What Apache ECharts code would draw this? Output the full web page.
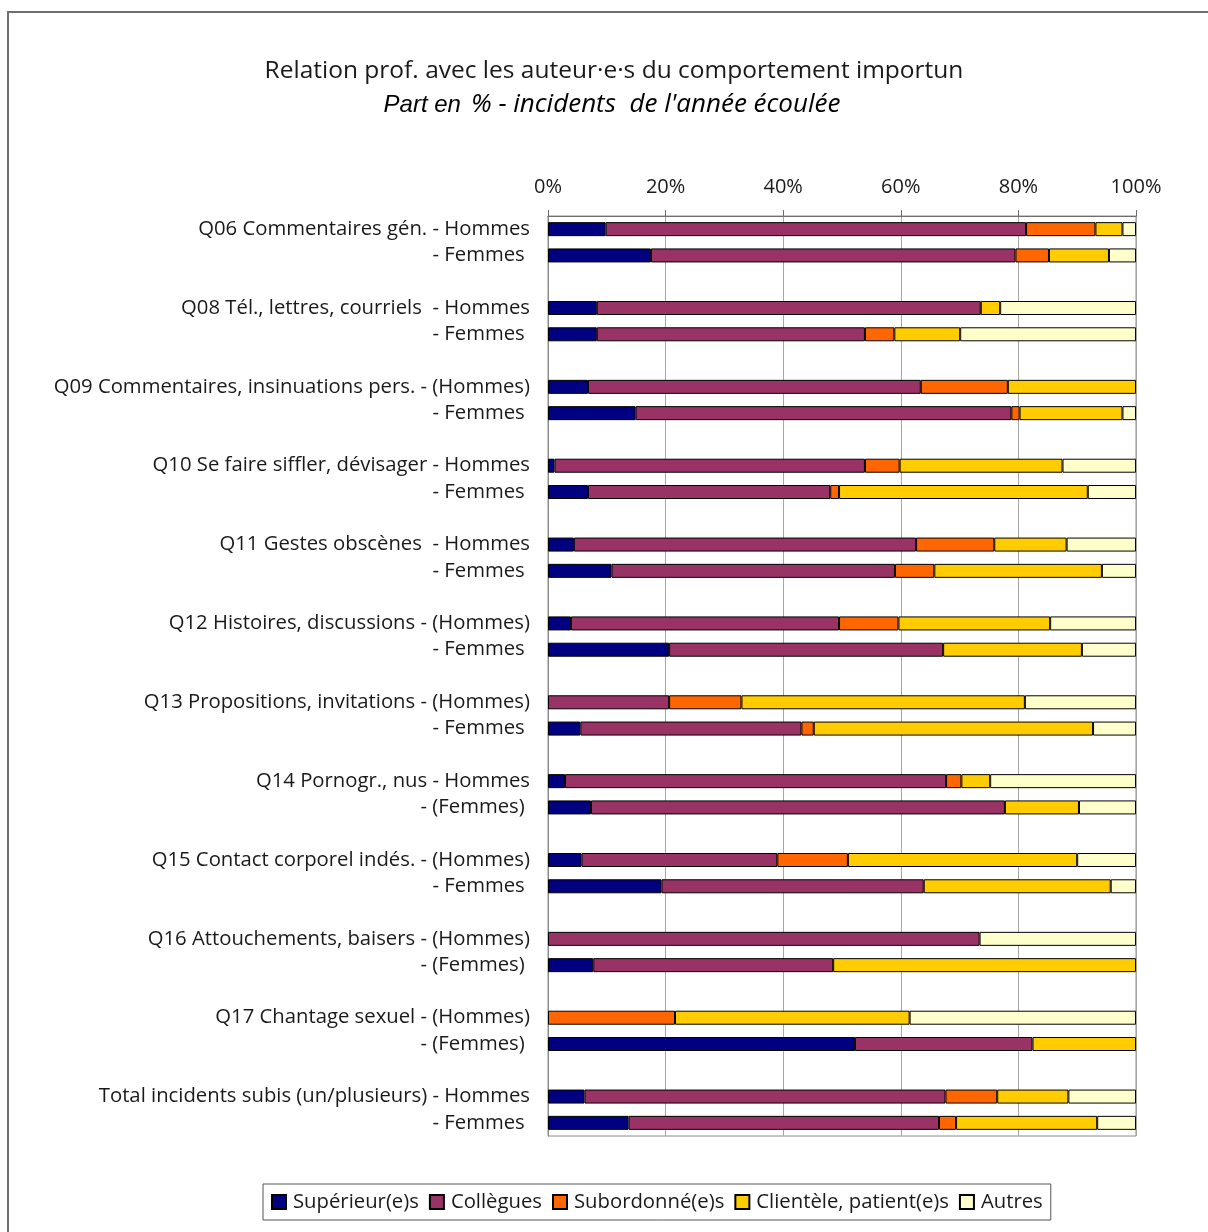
<!DOCTYPE html>
<html>
<head>
<meta charset="utf-8">
<script src="https://cdn.jsdelivr.net/npm/echarts@6/dist/echarts.min.js"></script>
<style>
  html, body { margin: 0; padding: 0; background: #fff; }
  #chart { width: 1208px; height: 1232px; }
</style>
</head>
<body>
<div id="chart"></div>
<script>
// rows: Hommes / Femmes per question, top to bottom
var rowLabels = [
  'Q06 Commentaires gén. - Hommes', '- Femmes ',
  'Q08 Tél., lettres, courriels  - Hommes', '- Femmes ',
  'Q09 Commentaires, insinuations pers. - (Hommes)', '- Femmes ',
  'Q10 Se faire siffler, dévisager - Hommes', '- Femmes ',
  'Q11 Gestes obscènes  - Hommes', '- Femmes ',
  'Q12 Histoires, discussions - (Hommes)', '- Femmes ',
  'Q13 Propositions, invitations - (Hommes)', '- Femmes ',
  'Q14 Pornogr., nus - Hommes', '- (Femmes) ',
  'Q15 Contact corporel indés. - (Hommes)', '- Femmes ',
  'Q16 Attouchements, baisers - (Hommes)', '- (Femmes) ',
  'Q17 Chantage sexuel - (Hommes)', '- (Femmes) ',
  'Total incidents subis (un/plusieurs) - Hommes', '- Femmes '
];

var seriesNames = ['Supérieur(e)s', 'Collègues', 'Subordonné(e)s', 'Clientèle, patient(e)s', 'Autres'];
var seriesColors = ['#000080', '#993366', '#FF6600', '#FFCC00', '#FFFFCC'];

var superieurs = [9.8, 17.5, 8.3, 8.3, 6.8, 14.9, 1.1, 6.8, 4.4, 10.8, 3.9, 20.6,
                  0, 5.5, 2.9, 7.3, 5.7, 19.3, 0, 7.7, 0, 52.2, 6.2, 13.7];
var collegues = [71.5, 62.0, 65.3, 45.6, 56.6, 63.9, 52.8, 41.2, 58.2, 48.2, 45.6, 46.6,
                 20.6, 37.6, 64.8, 70.4, 33.3, 44.6, 73.4, 40.8, 0, 30.2, 61.4, 52.8];
var subordonnes = [11.8, 5.7, 0, 5.0, 14.8, 1.4, 5.9, 1.5, 13.3, 6.7, 10.1, 0,
                   12.3, 2.1, 2.6, 0, 12.0, 0, 0, 0, 21.6, 0, 8.8, 2.9];
var clientele = [4.6, 10.2, 3.3, 11.2, 21.8, 17.5, 27.7, 42.3, 12.3, 28.5, 25.8, 23.6,
                 48.2, 47.5, 4.9, 12.6, 39.0, 31.8, 0, 51.5, 39.9, 17.6, 12.1, 24.0];
var autres = [2.3, 4.6, 23.1, 29.9, 0, 2.3, 12.5, 8.2, 11.8, 5.8, 14.6, 9.2,
              18.9, 7.3, 24.8, 9.7, 10.0, 4.3, 26.6, 0, 38.5, 0, 11.5, 6.6];

var xTicks = [0, 20, 40, 60, 80, 100];

// build category slots with an empty slot between each pair
var slotKeys = [], slotText = {}, slotRow = [];
rowLabels.forEach(function (lab, i) {
  slotKeys.push('r' + i); slotText['r' + i] = lab; slotRow.push(i);
  if (i % 2 === 1 && i < rowLabels.length - 1) {
    slotKeys.push('g' + i); slotText['g' + i] = ''; slotRow.push(-1);
  }
});

function spread(arr) {
  return slotRow.map(function (r) {
    if (r < 0) return null;
    return arr[r] === 0 ? null : arr[r];
  });
}

var allValues = [superieurs, collegues, subordonnes, clientele, autres];

var font = '"Open Sans", "Noto Sans", sans-serif';
var txt = '#1a1a1a';

var chart = echarts.init(document.getElementById('chart'));

var option = {
  animation: false,
  backgroundColor: '#fff',
  textStyle: { fontFamily: font },
  graphic: [
    { type: 'rect', shape: { x: 8, y: 12, width: 1400, height: 1400 },
      style: { fill: 'none', stroke: '#6e6e6e', lineWidth: 2 }, silent: true },
    { type: 'text', x: 614, y: 71,
      style: { text: 'Relation prof. avec les auteur·e·s du comportement importun',
               font: '24.5px ' + font, fill: txt, textAlign: 'center', textVerticalAlign: 'middle' } },
    { type: 'text', x: 612, y: 105,
      style: {
        text: '{a|Part en } {b|% - incidents  de l\'année écoulée}',
        textAlign: 'center', textVerticalAlign: 'middle',
        rich: {
          a: { fontFamily: '"Liberation Sans", Arial, sans-serif', fontStyle: 'italic', fontSize: 24, color: txt },
          b: { fontFamily: font, fontStyle: 'italic', fontSize: 26, color: txt }
        }
      } }
  ],
  grid: {
    left: 548, right: 72, top: 216, bottom: 96,
    show: true, borderColor: '#8c8c8c', borderWidth: 1
  },
  legend: {
    left: 263, top: 1184,
    data: seriesNames,
    itemWidth: 14, itemHeight: 14, itemGap: 10,
    icon: 'rect',
    padding: [8, 8, 8, 8],
    borderColor: '#555', borderWidth: 1,
    textStyle: { fontSize: 20.3, color: txt, fontFamily: font, padding: [0, 0, 0, 2] }
  },
  xAxis: {
    type: 'value', position: 'top',
    min: xTicks[0], max: xTicks[xTicks.length - 1], interval: 20,
    axisLine: { show: true, lineStyle: { color: '#6e6e6e', width: 1 } },
    axisTick: { show: true, inside: false, length: 6, lineStyle: { color: '#6e6e6e' } },
    splitLine: { show: true, lineStyle: { color: '#a6a6a6', width: 1 } },
    axisLabel: { formatter: '{value}%', fontSize: 20, color: txt, margin: 19 }
  },
  yAxis: {
    type: 'category', inverse: true,
    data: slotKeys,
    axisLine: { show: true, lineStyle: { color: '#8c8c8c' } },
    axisTick: { show: false },
    axisLabel: {
      interval: 0, fontSize: 20.3, color: txt, margin: 18,
      formatter: function (v) { return slotText[v]; }
    }
  },
  series: seriesNames.map(function (name, k) {
    return {
      name: name, type: 'bar', stack: 'tot',
      barWidth: 14,
      itemStyle: { color: seriesColors[k], borderColor: '#000', borderWidth: 1 },
      data: spread(allValues[k])
    };
  })
};

chart.setOption(option);
</script>
</body>
</html>
